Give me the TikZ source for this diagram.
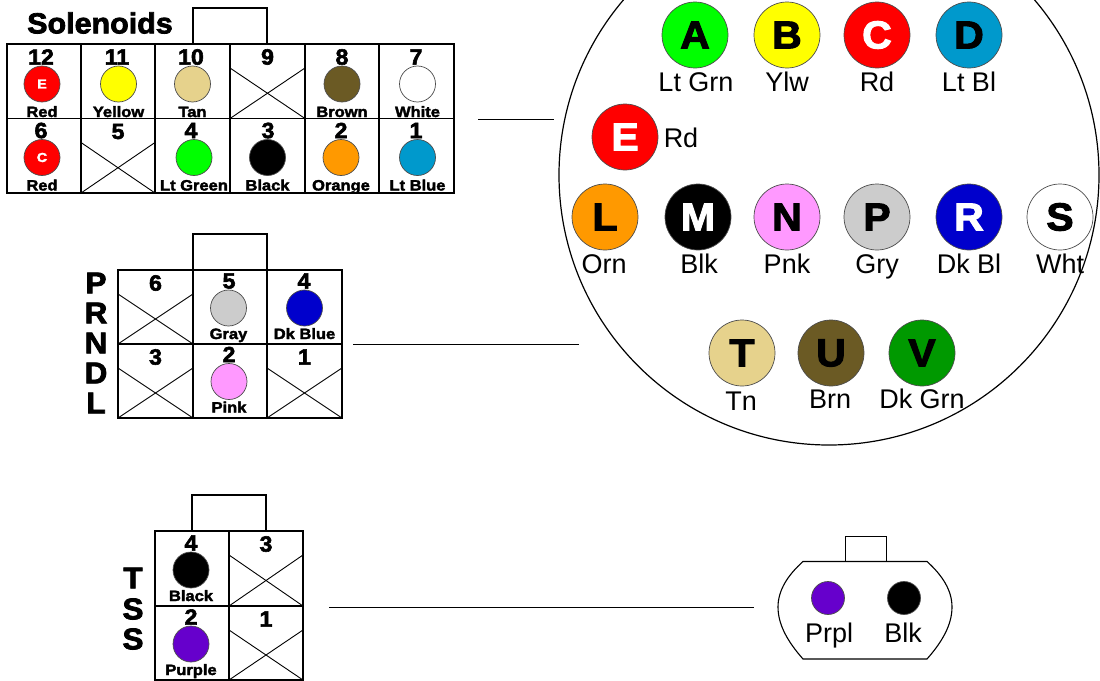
\documentclass[tikz,border=0pt]{standalone}
\usepackage{fontspec}
\setmainfont{Liberation Sans}
\newfontfamily\heavy[FakeBold=2.6,FakeStretch=1.05]{Liberation Sans Bold}
\newfontfamily\heavycap[FakeBold=2.4,FakeStretch=1.1]{Liberation Sans Bold}
\definecolor{cGrn}{HTML}{00FF00}
\definecolor{cYlw}{HTML}{FFFF00}
\definecolor{cRd}{HTML}{FF0000}
\definecolor{cLb}{HTML}{0099CC}
\definecolor{cOrn}{HTML}{FF9900}
\definecolor{cPnk}{HTML}{FF99FF}
\definecolor{cGry}{HTML}{CCCCCC}
\definecolor{cDb}{HTML}{0000CC}
\definecolor{cTn}{HTML}{E6D28C}
\definecolor{cBrn}{HTML}{6B5A24}
\definecolor{cDg}{HTML}{009900}
\definecolor{cPrp}{HTML}{6600CC}
\tikzset{
  rule/.style={draw=black,line width=1.1pt},
  thinrule/.style={draw=black,line width=0.9pt},
  pinbase/.style={circle,draw=black!70,line width=0.7pt,inner sep=0pt,minimum size=#1},
  smallpin/.style={pinbase=36pt},
  largepin/.style={pinbase=66pt},
  tsspin/.style={pinbase=33pt},
  numtext/.style={font=\heavy\fontsize{22}{22}\selectfont,inner sep=0pt,anchor=center},
  captext/.style={font=\heavycap\fontsize{15}{15}\selectfont,inner sep=0pt,anchor=base},
  lbl/.style={font=\fontsize{27}{27}\selectfont,inner sep=0pt,anchor=base,yshift=-9pt},
  sidetext/.style={font=\heavy\fontsize{30}{30}\selectfont,inner sep=0pt,anchor=center},
  titletext/.style={font=\heavy\fontsize{29}{29}\selectfont,inner sep=0pt,anchor=center},
}
\newcommand{\capoff}{33}
\newcommand{\pincell}[7]{%
  \node[smallpin,fill=#4] (pin#6) at (#1,#2) {};
  \node[numtext] (num#6) at (#7,#2-27) {#3};
  \node[captext] (cap#6) at (#1,#2+\capoff) {#5};
}
\newcommand{\emptycell}[6]{%
  \draw[thinrule] (#1,#2+24) -- (#3,#4);
  \draw[thinrule] (#1,#4) -- (#3,#2+24);
  \node[numtext] (num#6) at ({(#1+#3)/2},#2+13) {#5};
}
\newcommand{\bigpinnode}[6]{%
  \node[largepin,fill=#4,font=\heavy\fontsize{39}{39}\selectfont,text=#5] (big#1) at (#2,#3) {#6};
}
\begin{document}
\begin{tikzpicture}[x=1pt,y=-1pt]
\useasboundingbox (0,0) rectangle (1100,680);
\begin{scope}
\clip (0,0) rectangle (1100,680);
\node[circle,draw=black,line width=1.2pt,inner sep=0pt,minimum size=540pt] (round) at (829,175) {};
\end{scope}
\bigpinnode{A}{695}{35}{cGrn}{black}{A}
\bigpinnode{B}{787}{35}{cYlw}{black}{B}
\bigpinnode{C}{877}{35}{cRd}{white}{C}
\bigpinnode{D}{969}{35}{cLb}{black}{D}
\bigpinnode{E}{625}{137}{cRd}{white}{E}
\bigpinnode{L}{605}{217}{cOrn}{black}{L}
\bigpinnode{M}{698}{217}{black}{white}{M}
\bigpinnode{N}{787}{217}{cPnk}{black}{N}
\bigpinnode{P}{877}{217}{cGry}{black}{P}
\bigpinnode{R}{969}{217}{cDb}{white}{R}
\bigpinnode{S}{1060}{217}{white}{black}{S}
\bigpinnode{T}{742}{353}{cTn}{black}{T}
\bigpinnode{U}{831}{353}{cBrn}{black}{U}
\bigpinnode{V}{922}{353}{cDg}{black}{V}
\node[lbl] (la) at (696,82) {Lt Grn};
\node[lbl] (lb) at (787,82) {Ylw};
\node[lbl] (lc) at (877,82) {Rd};
\node[lbl] (ld) at (969,82) {Lt Bl};
\node[lbl] (le) at (681,138) {Rd};
\node[lbl] (ll) at (604,264) {Orn};
\node[lbl] (lm) at (699,264) {Blk};
\node[lbl] (ln) at (787,264) {Pnk};
\node[lbl] (lp) at (877,264) {Gry};
\node[lbl] (lr) at (969,264) {Dk Bl};
\node[lbl] (ls) at (1060,264) {Wht};
\node[lbl] (lt) at (741,401) {Tn};
\node[lbl] (lu) at (830,399) {Brn};
\node[lbl] (lv) at (922,399) {Dk Grn};
% Solenoids
\node[titletext] (soltitle) at (100,23) {Solenoids};
\draw[rule] (193,44) -- (193,8) -- (267,8) -- (267,44);
\draw[rule] (7,44) rectangle (454,193);
\draw[rule] (7,118.5) -- (454,118.5);
\foreach \x in {81,155,230,305,379} \draw[rule] (\x,44) -- (\x,193);
\pincell{42}{84}{12}{cRd}{Red}{a}{41}
\node[font=\heavycap\fontsize{13}{13}\selectfont,text=white,inner sep=0pt] (letE) at (pina) {E};
\pincell{118.5}{84}{11}{cYlw}{Yellow}{b}{117}
\pincell{192.5}{84}{10}{cTn}{Tan}{c}{191}
\emptycell{230}{44}{305}{118.5}{9}{d}
\pincell{342}{84}{8}{cBrn}{Brown}{e}{342}
\pincell{417.5}{84}{7}{white}{White}{f}{416}
\pincell{42}{157.5}{6}{cRd}{Red}{g}{41}
\node[font=\heavycap\fontsize{13}{13}\selectfont,text=white,inner sep=0pt] (letC) at (ping) {C};
\emptycell{81}{118.5}{155}{193}{5}{h}
\pincell{194}{157.5}{4}{cGrn}{Lt Green}{i}{191}
\pincell{267.5}{157.5}{3}{black}{Black}{j}{268}
\pincell{341}{157.5}{2}{cOrn}{Orange}{k}{341}
\pincell{417.5}{157.5}{1}{cLb}{Lt Blue}{l}{416}
% PRNDL
\renewcommand{\capoff}{31}
\foreach \c/\yy in {P/283,R/313,N/343,D/373,L/403} \node[sidetext] (side\c) at (96,\yy) {\c};
\draw[rule] (193,270) -- (193,234) -- (267,234) -- (267,270);
\draw[rule] (118,270) rectangle (342,418);
\draw[rule] (118,344) -- (342,344);
\foreach \x in {193,267} \draw[rule] (\x,270) -- (\x,418);
\emptycell{118}{270}{193}{344}{6}{m}
\pincell{228.5}{308}{5}{cGry}{Gray}{n}{229}
\pincell{304.5}{308}{4}{cDb}{Dk Blue}{o}{304}
\emptycell{118}{344}{193}{418}{3}{p}
\pincell{229}{381.5}{2}{cPnk}{Pink}{q}{229}
\emptycell{267}{344}{342}{418}{1}{r}
% TSS
\foreach \c/\yy/\nm in {T/578/a,S/609/b,S/639/c} \node[sidetext] (tss\nm) at (133,\yy) {\c};
\draw[rule] (192,531) -- (192,495) -- (266,495) -- (266,531);
\draw[rule] (155,531) rectangle (303,680);
\draw[rule] (155,606) -- (303,606);
\draw[rule] (229,531) -- (229,680);
\pincell{191}{570}{4}{black}{Black}{s}{191}
\emptycell{229}{531}{303}{606}{3}{t}
\pincell{191}{644}{2}{cPrp}{Purple}{u}{191}
\emptycell{229}{606}{303}{680}{1}{v}
% small connector
\draw[thinrule] (845,561) -- (845,536) -- (886,536) -- (886,561);
\draw[rule,fill=white] (803,561.5) -- (927,561.5) .. controls (942,575) and (952,590) .. (952,607)
  .. controls (952,625) and (942,642) .. (927,659) -- (803,659)
  .. controls (788,642) and (778,625) .. (778,607) .. controls (778,590) and (788,575) .. (803,561.5) -- cycle;
\node[tsspin,fill=cPrp] (prp) at (828,598) {};
\node[tsspin,fill=black] (blk) at (904,598) {};
\node[lbl] (lprp) at (829,633) {Prpl};
\node[lbl] (lblk) at (903,633) {Blk};
% connector lines
\coordinate (s1) at (478,119); \coordinate (s2) at (554,119);
\coordinate (p1) at (353,344); \coordinate (p2) at (579,344);
\coordinate (t1) at (329,607); \coordinate (t2) at (754,607);
\draw[thinrule] (s1) -- (s2);
\draw[thinrule] (p1) -- (p2);
\draw[thinrule] (t1) -- (t2);
\end{tikzpicture}
\end{document}
